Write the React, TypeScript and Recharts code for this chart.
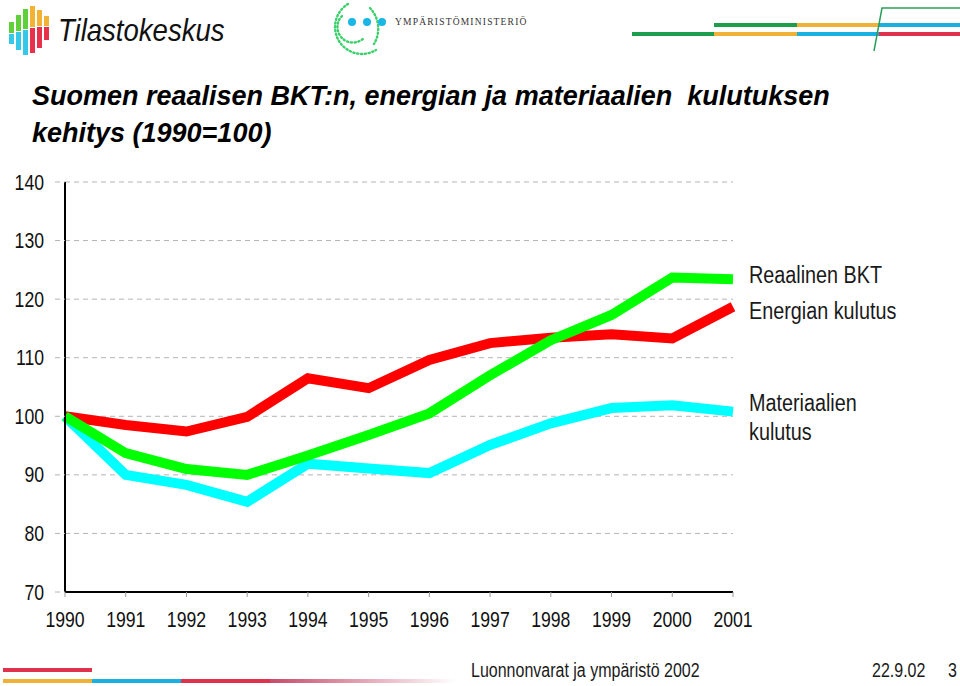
import { CartesianGrid, Line, LineChart, XAxis, YAxis } from "recharts";

const years = ["1990", "1991", "1992", "1993", "1994", "1995", "1996", "1997", "1998", "1999", "2000", "2001"];
const bkt = [100, 98.5, 97.4, 99.9, 106.5, 104.8, 109.6, 112.5, 113.4, 114.0, 113.3, 118.7];
const energia = [100, 93.7, 91.0, 90.0, 93.3, 96.8, 100.5, 107.0, 113.0, 117.3, 123.7, 123.4];
const materiaalit = [100, 90.0, 88.3, 85.4, 91.9, 91.1, 90.3, 95.1, 98.8, 101.4, 101.9, 100.8];
const yTicks = [70, 80, 90, 100, 110, 120, 130, 140];

const data = years.map((y, i) => ({ year: y, bkt: bkt[i], energia: energia[i], materiaalit: materiaalit[i] }));

const arial = "'Liberation Sans', Arial, sans-serif";

// Arial Narrow is not installed: squeeze Liberation Sans instead
function XTick({ x, y, payload }: any) {
  return (
    <text transform={`translate(${x},${y}) scale(0.82,1)`} textAnchor="middle" dy="0.71em" fill="#111" fontSize={21.5} fontFamily={arial}>
      {payload.value}
    </text>
  );
}

function YTick({ x, y, payload }: any) {
  return (
    <text transform={`translate(${x},${y}) scale(0.82,1)`} textAnchor="end" dy="0.355em" fill="#111" fontSize={21.5} fontFamily={arial}>
      {payload.value}
    </text>
  );
}

function Narrow({ x, y, size, sx, children }: { x: number; y: number; size: number; sx: number; children: any }) {
  return (
    <div
      style={{
        position: "absolute",
        left: x,
        top: y,
        fontFamily: arial,
        fontSize: size,
        lineHeight: `${Math.round(size * 1.25)}px`,
        color: "#1a1a1a",
        whiteSpace: "nowrap",
        transform: `scaleX(${sx})`,
        transformOrigin: "left top",
      }}
    >
      {children}
    </div>
  );
}

function StatLogo() {
  // coloured bar mark of Tilastokeskus
  const cols = [
    { x: 9, top: 22, mid: 33, bot: 44, c1: "#5fd03a", c2: "#35c8e8" },
    { x: 16, top: 15, mid: 31, bot: 50, c1: "#5fd03a", c2: "#35c8e8" },
    { x: 23, top: 9, mid: 29, bot: 55, c1: "#5fd03a", c2: "#35c8e8" },
    { x: 30, top: 6, mid: 27, bot: 53, c1: "#f2b233", c2: "#e8304a" },
    { x: 37, top: 10, mid: 26, bot: 48, c1: "#f2b233", c2: "#e8304a" },
    { x: 44, top: 16, mid: 26, bot: 40, c1: "#f2b233", c2: "#e8304a" },
  ];
  return (
    <svg width={60} height={60} style={{ position: "absolute", left: 0, top: 0 }}>
      {cols.map((c) => (
        <g key={c.x}>
          <rect x={c.x} y={c.top} width={5} height={c.mid - c.top} fill={c.c1} />
          <rect x={c.x} y={c.mid + 1} width={5} height={c.bot - c.mid - 1} fill={c.c2} />
        </g>
      ))}
    </svg>
  );
}

function MinLogo() {
  return (
    <svg width={80} height={60} style={{ position: "absolute", left: 318, top: 0 }}>
      <path d="M 30 4 A 26 26 0 1 0 58 50" fill="none" stroke="#3ad06a" strokeWidth={2.4} strokeDasharray="1.2 2.6" strokeLinecap="round" />
      <path d="M 24 16 A 15 15 0 1 0 46 38" fill="none" stroke="#3ad06a" strokeWidth={2.4} strokeDasharray="1.2 2.6" strokeLinecap="round" />
      <path d="M 52 8 A 30 30 0 0 1 56 44" fill="none" stroke="#3ad06a" strokeWidth={2.4} strokeDasharray="1.2 2.6" strokeLinecap="round" />
      <circle cx={34} cy={22} r={4} fill="#1ab6e6" />
      <circle cx={49} cy={22} r={4} fill="#1ab6e6" />
      <circle cx={64} cy={22} r={4} fill="#1ab6e6" />
    </svg>
  );
}

function Stripe({ x, y, w, c }: { x: number; y: number; w: number; c: string }) {
  return <div style={{ position: "absolute", left: x, top: y, width: w, height: 4, background: c }} />;
}

export default function App() {
  return (
    <div style={{ position: "absolute", left: 0, top: 0, width: 960, height: 686, background: "#fff", overflow: "hidden" }}>
      <StatLogo />
      <div
        style={{
          position: "absolute",
          left: 58,
          top: 12,
          fontFamily: arial,
          fontStyle: "italic",
          fontSize: 32,
          lineHeight: "36px",
          color: "#111",
          transform: "scaleX(0.86)",
          transformOrigin: "left top",
        }}
      >
        Tilastokeskus
      </div>
      <MinLogo />
      <div style={{ position: "absolute", left: 395, top: 17, fontFamily: "'Liberation Serif', serif", fontSize: 9.5, letterSpacing: 1.2, color: "#333" }}>
        YMPÄRISTÖMINISTERIÖ
      </div>

      <Stripe x={714} y={23} w={83} c="#1d9e4c" />
      <Stripe x={797} y={23} w={82} c="#efb136" />
      <Stripe x={879} y={23} w={81} c="#1bb0e2" />
      <Stripe x={632} y={32} w={82} c="#1d9e4c" />
      <Stripe x={714} y={32} w={83} c="#efb136" />
      <Stripe x={797} y={32} w={82} c="#1bb0e2" />
      <Stripe x={879} y={32} w={81} c="#e0324c" />
      <svg width={960} height={60} style={{ position: "absolute", left: 0, top: 0 }}>
        <defs>
          <linearGradient id="fadeG" x1="0" x2="1" y1="0" y2="0">
            <stop offset="0" stopColor="#2a9e5a" stopOpacity={0} />
            <stop offset="0.5" stopColor="#2a9e5a" stopOpacity={1} />
          </linearGradient>
        </defs>
        <polyline points="666,51 875,51" stroke="url(#fadeG)" strokeWidth={1.5} fill="none" />
        <polyline points="874,51 882,8 960,8" stroke="#2a9e5a" strokeWidth={1.5} fill="none" />
      </svg>

      <div style={{ position: "absolute", left: 32, top: 78, fontFamily: arial, fontStyle: "italic", fontWeight: 700, fontSize: 27, lineHeight: "37px", color: "#000" }}>
        Suomen reaalisen BKT:n, energian ja materiaalien&nbsp; kulutuksen
        <br />
        kehitys (1990=100)
      </div>

      <div style={{ position: "absolute", left: 0, top: 0 }}>
        <LineChart width={960} height={686} data={data} margin={{ top: 182, right: 227, bottom: 64, left: 0 }}>
          <CartesianGrid vertical={false} stroke="#b4b4b4" strokeDasharray="5 4" />
          <XAxis
            dataKey="year"
            height={30}
            axisLine={{ stroke: "#000", strokeWidth: 2 }}
            tickLine={{ stroke: "#999" }}
            tickSize={5}
            tickMargin={15}
            tick={<XTick />}
            interval={0}
          />
          <YAxis
            width={65}
            domain={[70, 140]}
            ticks={yTicks}
            allowDataOverflow
            axisLine={{ stroke: "#000", strokeWidth: 2 }}
            tickLine={{ stroke: "#b4b4b4", strokeDasharray: "5 4" }}
            tickSize={10}
            tickMargin={11}
            tick={<YTick />}
          />
          <Line dataKey="bkt" stroke="#ff0000" strokeWidth={10} dot={false} isAnimationActive={false} />
          <Line dataKey="materiaalit" stroke="#00ffff" strokeWidth={10} dot={false} isAnimationActive={false} />
          <Line dataKey="energia" stroke="#00ff00" strokeWidth={10} dot={false} isAnimationActive={false} />
        </LineChart>
      </div>

      <Narrow x={749} y={261} size={23} sx={0.86}>Reaalinen BKT</Narrow>
      <Narrow x={749} y={297} size={23} sx={0.86}>Energian kulutus</Narrow>
      <Narrow x={749} y={389} size={23} sx={0.86}>Materiaalien</Narrow>
      <Narrow x={749} y={418} size={23} sx={0.86}>kulutus</Narrow>

      <Stripe x={3} y={668} w={89} c="#e0324c" />
      <Stripe x={3} y={679} w={89} c="#efb136" />
      <Stripe x={92} y={679} w={89} c="#1bb0e2" />
      <Stripe x={181} y={679} w={89} c="#e0324c" />
      <div style={{ position: "absolute", left: 270, top: 679, width: 185, height: 4, background: "linear-gradient(to right, #c84a6a, rgba(255,255,255,0))" }} />

      <Narrow x={471} y={658} size={20} sx={0.8}>Luonnonvarat ja ympäristö 2002</Narrow>
      <Narrow x={872} y={658} size={20} sx={0.8}>22.9.02</Narrow>
      <Narrow x={948} y={658} size={20} sx={0.8}>3</Narrow>
    </div>
  );
}
